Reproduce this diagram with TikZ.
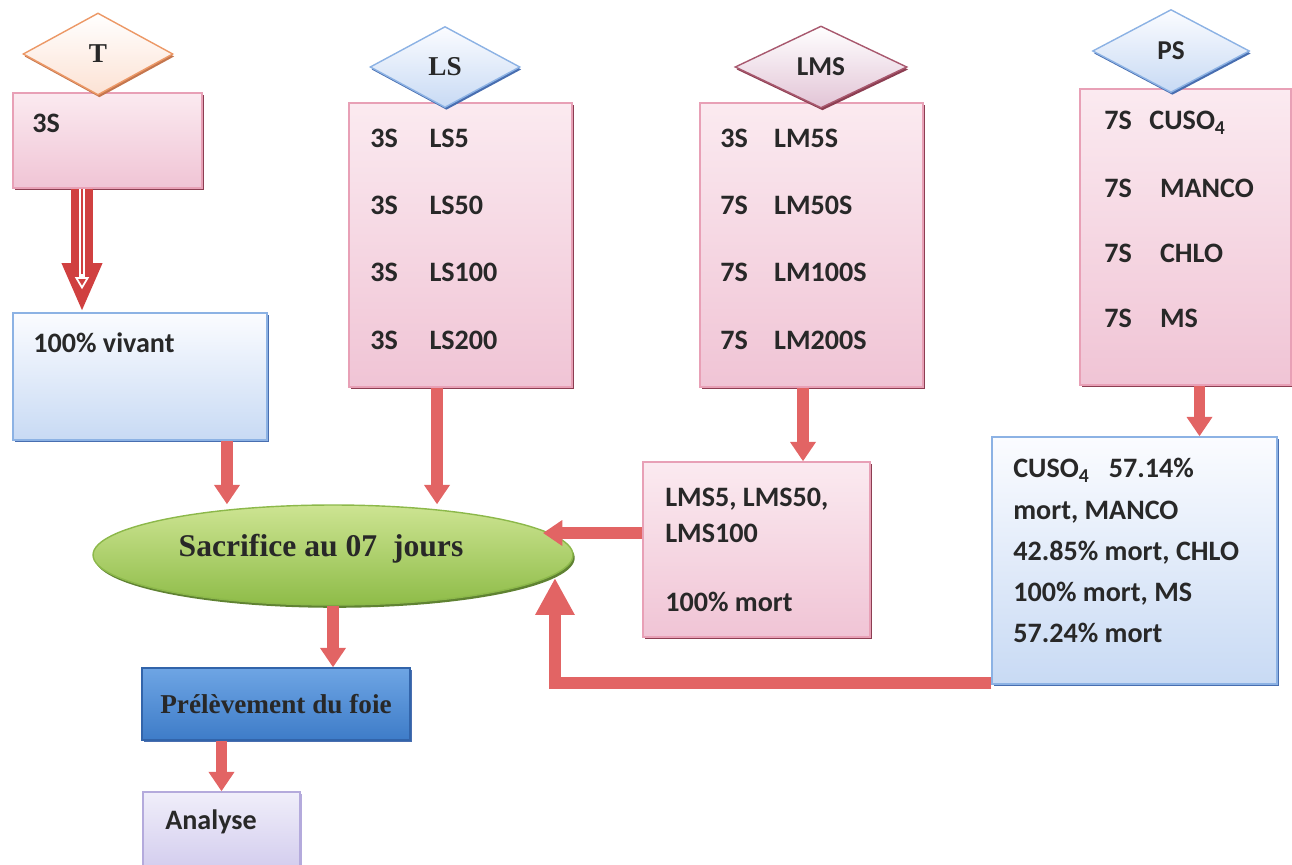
\documentclass[tikz,border=0pt]{standalone}
\usepackage{fontspec}
\setmainfont{Liberation Serif}
\newfontfamily\carlito{Carlito}
\usetikzlibrary{shapes.geometric,shadows,fit,arrows.meta}

\definecolor{pinkline}{RGB}{232,160,182}
\definecolor{pinktop}{RGB}{251,234,240}
\definecolor{pinkbot}{RGB}{240,196,213}
\definecolor{pinkshade}{RGB}{140,62,82}
\definecolor{blueline}{RGB}{140,178,228}
\definecolor{bluetop}{RGB}{251,252,255}
\definecolor{bluebot}{RGB}{200,218,244}
\definecolor{blueshade}{RGB}{72,110,176}
\definecolor{darkline}{RGB}{50,100,170}
\definecolor{darktop}{RGB}{110,165,228}
\definecolor{darkbot}{RGB}{62,124,200}
\definecolor{lilacline}{RGB}{180,170,220}
\definecolor{lilactop}{RGB}{240,238,250}
\definecolor{lilacbot}{RGB}{205,198,235}
\definecolor{greenline}{RGB}{140,184,74}
\definecolor{greentop}{RGB}{205,228,146}
\definecolor{greenbot}{RGB}{142,188,72}
\definecolor{greenshade}{RGB}{95,130,50}
\definecolor{orangeline}{RGB}{236,152,102}
\definecolor{orangebot}{RGB}{252,226,212}
\definecolor{orangeshade}{RGB}{196,118,78}
\definecolor{lmsline}{RGB}{168,88,110}
\definecolor{lmsbot}{RGB}{226,196,214}
\definecolor{arrowred}{RGB}{226,100,100}
\definecolor{hollowred}{RGB}{208,64,64}
\definecolor{txtgray}{RGB}{40,40,40}

\tikzset{
  pinkbox/.style={draw=pinkline, line width=0.8pt, top color=pinktop, bottom color=pinkbot,
    drop shadow={shadow xshift=1.4pt, shadow yshift=-1.4pt, fill=pinkshade, opacity=1}},
  bluebox/.style={draw=blueline, line width=0.8pt, top color=bluetop, bottom color=bluebot,
    drop shadow={shadow xshift=1.4pt, shadow yshift=-1.4pt, fill=blueshade, opacity=1}},
  darkbox/.style={draw=darkline, line width=0.8pt, top color=darktop, bottom color=darkbot,
    drop shadow={shadow xshift=1.4pt, shadow yshift=-1.4pt, fill=blueshade, opacity=1}},
  lilacbox/.style={draw=lilacline, line width=0.8pt, top color=lilactop, bottom color=lilacbot,
    drop shadow={shadow xshift=1.4pt, shadow yshift=-1.4pt, fill=lilacline, opacity=1}},
  flag/.style={diamond, line width=0.8pt, text=txtgray},
  orangeflag/.style={flag, draw=orangeline, top color=white, bottom color=orangebot,
    drop shadow={shadow xshift=0.8pt, shadow yshift=-1.4pt, fill=orangeshade, opacity=1}},
  blueflag/.style={flag, draw=blueline, top color=bluetop, bottom color=bluebot,
    drop shadow={shadow xshift=0.8pt, shadow yshift=-1.4pt, fill=blueshade, opacity=1}},
  lmsflag/.style={flag, draw=lmsline, top color=white, bottom color=lmsbot,
    drop shadow={shadow xshift=0.8pt, shadow yshift=-1.4pt, fill=pinkshade, opacity=1}},
  lbl/.style={font=\carlito\bfseries\fontsize{16}{20}\selectfont, text=txtgray, anchor=west},
  serif/.style={font=\bfseries\fontsize{15.5}{19}\selectfont, text=txtgray},
  redarrow/.style={draw=arrowred, line width=6.5pt, -{Triangle[width=14pt,length=11pt]}},
  bigarrow/.style={draw=arrowred, line width=7pt, -{Triangle[width=21pt,length=21pt]}}
}

\begin{document}
\begin{tikzpicture}[x=0.02cm,y=0.02cm]
\tikzstyle{every node}+=[inner sep=0pt]
\useasboundingbox (0,0) rectangle (1292,-865);

% column T
\node[pinkbox, fit={(13,-93) (202,-188)}] (tbox) {};
\node[lbl] (t1) at (32,-123) {3S};
\node[bluebox, fit={(13,-313) (267,-440)}] (vivant) {};
\node[lbl] (v1) at (33,-343) {100\% vivant};
\node[orangeflag, serif, minimum width=3cm, minimum height=1.64cm] (T) at (98,-54) {T};

% column LS
\node[pinkbox, fit={(349,-103) (572,-387)}] (lsbox) {};
\node[lbl] (ls1) at (370,-138) {3S\hspace{18pt}LS5};
\node[lbl] (ls2) at (370,-205) {3S\hspace{18pt}LS50};
\node[lbl] (ls3) at (370,-272) {3S\hspace{18pt}LS100};
\node[lbl] (ls4) at (370,-340) {3S\hspace{18pt}LS200};
\node[blueflag, serif, minimum width=3cm, minimum height=1.62cm] (LS) at (445,-67) {LS};

% column LMS
\node[pinkbox, fit={(700,-103) (923,-387)}] (lmsbox) {};
\node[lbl] (lms1) at (720,-138) {3S\hspace{15pt}LM5S};
\node[lbl] (lms2) at (720,-205) {7S\hspace{15pt}LM50S};
\node[lbl] (lms3) at (720,-272) {7S\hspace{15pt}LM100S};
\node[lbl] (lms4) at (720,-340) {7S\hspace{15pt}LM200S};
\node[lmsflag, lbl, anchor=center, font=\carlito\bfseries\fontsize{15.5}{19}\selectfont,
  minimum width=3.44cm, minimum height=1.64cm] (LMS) at (821,-67) {LMS};
\node[pinkbox, fit={(643,-462) (870,-637)}] (lmsres) {};
\node[lbl, anchor=north west, align=left, font=\carlito\bfseries\fontsize{16}{20.4}\selectfont]
  (lmsrestxt) at (665,-488) {LMS5, LMS50,\\LMS100\\[19pt]100\% mort};

% column PS
\node[pinkbox, fit={(1080,-89) (1291,-385)}] (psbox) {};
\node[lbl] (ps1) at (1104,-123) {7S\hspace{10pt}CUSO\textsubscript{4}};
\node[lbl] (ps2) at (1104,-188) {7S\hspace{16pt}MANCO};
\node[lbl] (ps3) at (1104,-253) {7S\hspace{16pt}CHLO};
\node[lbl] (ps4) at (1104,-318) {7S\hspace{16pt}MS};
\node[blueflag, lbl, anchor=center, font=\carlito\bfseries\fontsize{15.5}{19}\selectfont,
  minimum width=3.14cm, minimum height=1.66cm] (PS) at (1171,-51) {PS};
\node[bluebox, fit={(992,-437) (1277,-684)}] (psres) {};
\node[lbl, anchor=north west, align=left, font=\carlito\bfseries\fontsize{16}{23.5}\selectfont]
  (psrestxt) at (1013,-458) {CUSO\textsubscript{4}\ \ \ 57.14\%\\mort, MANCO\\42.85\% mort, CHLO\\100\% mort, MS\\57.24\% mort};

% bottom
\node[ellipse, draw=greenline, line width=0.8pt, top color=greentop, bottom color=greenbot,
  drop shadow={shadow xshift=1pt, shadow yshift=-1.6pt, fill=greenshade, opacity=1},
  minimum width=9.6cm, minimum height=2cm] (sacr) at (333,-555) {};
\node[serif, font=\bfseries\fontsize{18}{22}\selectfont] (sacrtxt) at (321,-549) {Sacrifice au 07\ \ jours};
\node[darkbox, serif, minimum width=5.36cm, minimum height=1.44cm] (prel) at (276,-704) {Prélèvement du foie};
\node[lilacbox, fit={(143,-792) (300,-885)}] (analyse) {};
\node[lbl] (a1) at (165,-822) {Analyse};

\coordinate (sacrR) at ([xshift=4.2cm,yshift=0.44cm]sacr.center);
\coordinate (sacrB) at ([xshift=4.44cm,yshift=-0.46cm]sacr.center);

% arrows
\draw[hollowred, line width=12pt, -{Triangle[width=21pt,length=28pt]}] ([xshift=-0.51cm]tbox.south) -- ([xshift=-0.51cm]tbox.south |- vivant.north);
\draw[white, line width=3pt, -{Triangle[open, width=8pt, length=7pt, line width=1pt]}] ([xshift=-0.51cm]tbox.south) -- ([xshift=-0.51cm,yshift=0.46cm]tbox.south |- vivant.north);
\draw[hollowred, line width=1pt] ([xshift=-0.51cm]tbox.south) -- ([xshift=-0.51cm,yshift=0.76cm]tbox.south |- vivant.north);
\draw[redarrow] ([xshift=1.74cm]vivant.south) -- ([xshift=1.74cm]vivant.south |- sacr.north);
\draw[redarrow] ([xshift=-0.47cm]lsbox.south) -- ([xshift=-0.47cm]lsbox.south |- sacr.north);
\draw[redarrow] ([xshift=-0.17cm]lmsbox.south) -- ([xshift=-0.17cm]lmsbox.south |- lmsres.north);
\draw[redarrow] ([xshift=0.28cm]psbox.south) -- ([xshift=0.28cm]psbox.south |- psres.north);
\draw[redarrow] (lmsres.west |- sacrR) -- (sacrR);
\draw[bigarrow] ([yshift=0.04cm]psres.south west) -| (sacrB);
\draw[redarrow] (sacr.south) -- (sacr.south |- prel.north);
\draw[redarrow] (prel.south -| analyse.north) -- (analyse.north);
\end{tikzpicture}
\end{document}
